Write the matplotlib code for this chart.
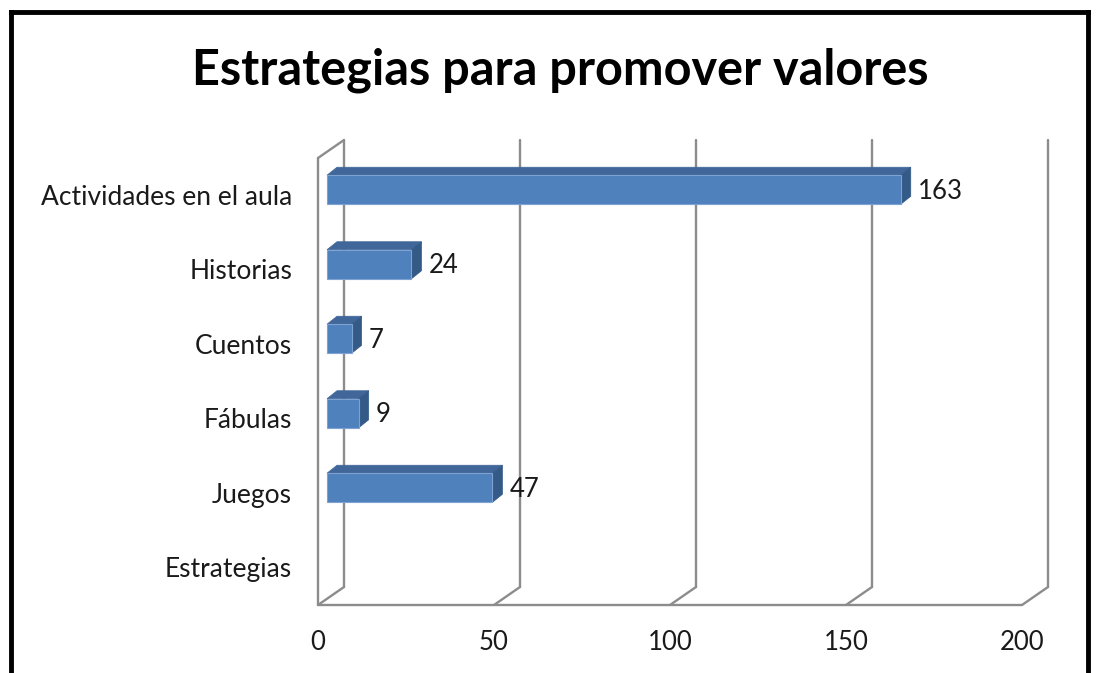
import matplotlib
matplotlib.use("Agg")
import matplotlib.pyplot as plt
from matplotlib.patches import Polygon
from matplotlib.lines import Line2D
from matplotlib.transforms import offset_copy, IdentityTransform

plt.rcParams['font.family'] = ['Lato', 'DejaVu Sans']

# data
categories = ["Estrategias", "Juegos", "Fábulas", "Cuentos", "Historias", "Actividades en el aula"]
values = [None, 47, 9, 7, 24, 163]
xticks = [0, 50, 100, 150, 200]
title = "Estrategias para promover valores"

W, H = 1099, 673
fig = plt.figure(figsize=(W / 100, H / 100), dpi=100)
ax = fig.add_axes([318 / W, (H - 605) / H, 704 / W, 447 / H])
ax.set_xlim(0, 200)
ax.set_ylim(-0.5, len(categories) - 0.5)
ax.axis('off')
px = IdentityTransform()

# depth offsets in pixels
DX, DY = 26, 18
back = offset_copy(ax.transData, fig=fig, x=DX, y=DY, units='dots')
grid_kw = dict(color='#8c8c8c', lw=1.7, clip_on=False, solid_capstyle='round')

y0, y1 = ax.get_ylim()
for t in xticks:
    ax.plot([t, t], [y0, y1], transform=back, **grid_kw)
    p0 = ax.transData.transform((t, y0))
    fig.add_artist(Line2D([p0[0], p0[0] + DX], [p0[1], p0[1] + DY], transform=px, **grid_kw))
# front floor and left wall
ax.plot([0, 200], [y0, y0], **grid_kw)
ax.plot([0, 0], [y0, y1], **grid_kw)
pt = ax.transData.transform((0, y1))
fig.add_artist(Line2D([pt[0], pt[0] + DX], [pt[1], pt[1] + DY], transform=px, **grid_kw))

# bars
bh = 0.39
fx, fy = 9, 5.5     # front face offset
bx, by = 10, 8      # bar depth
for i, v in enumerate(values):
    if v is None:
        continue
    a = ax.transData.transform((0, i - bh / 2))
    b = ax.transData.transform((v, i + bh / 2))
    x0, ya = a[0] + fx, a[1] + fy
    x1, yb = b[0] + fx, b[1] + fy
    front = Polygon([(x0, ya), (x1, ya), (x1, yb), (x0, yb)], closed=True, transform=px,
                    facecolor='#4f81bd', edgecolor='#7ea3d2', lw=0.8)
    top = Polygon([(x0, yb), (x1, yb), (x1 + bx, yb + by), (x0 + bx, yb + by)], closed=True,
                  transform=px, facecolor='#41679a', edgecolor='#41679a', lw=0.5)
    side = Polygon([(x1, ya), (x1 + bx, ya + by), (x1 + bx, yb + by), (x1, yb)], closed=True,
                   transform=px, facecolor='#345a88', edgecolor='#345a88', lw=0.5)
    for p in (top, side, front):
        fig.add_artist(p)
    ax.text(v, i, str(v), transform=offset_copy(ax.transData, fig=fig, x=26, y=4, units='dots'),
            ha='left', va='center', fontsize=18.5, color='#1a1a1a')

# category labels
for i, c in enumerate(categories):
    ax.text(0, i, c, transform=offset_copy(ax.transData, fig=fig, x=-26, y=-2, units='dots'),
            ha='right', va='center', fontsize=19, color='#1a1a1a')

# x tick labels
for t in xticks:
    ax.text(t, y0, str(t), transform=offset_copy(ax.transData, fig=fig, x=0, y=-38, units='dots'),
            ha='center', va='center', fontsize=18.5, color='#1a1a1a')

fig.text(560 / W, 1 - 70 / H, title, ha='center', va='center', fontsize=35, fontweight='bold', color='black')

# outer border (top, left, right)
border_kw = dict(color='black', lw=3.5, transform=fig.transFigure)
fig.add_artist(Line2D([11 / W, 1088 / W], [1 - 12 / H, 1 - 12 / H], solid_capstyle='projecting', **border_kw))
fig.add_artist(Line2D([11 / W, 11 / W], [0, 1 - 12 / H], **border_kw))
fig.add_artist(Line2D([1088 / W, 1088 / W], [0, 1 - 12 / H], **border_kw))

fig.savefig("out.png", dpi=100, facecolor='white')
